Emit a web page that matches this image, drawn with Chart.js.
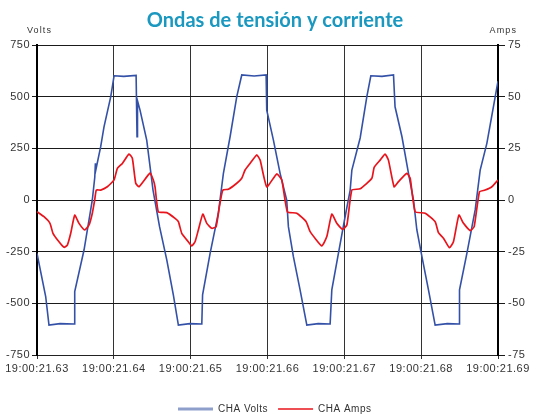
<!DOCTYPE html>
<html><head><meta charset="utf-8">
<script src="https://cdn.jsdelivr.net/npm/chart.js@4"></script>
<style>html,body{margin:0;padding:0;background:#fff;overflow:hidden;}</style>
</head><body>
<canvas id="c" width="541" height="414"></canvas>
<script>
// ---- data (time in ms after 19:00:21.63) ----
const titleText = 'Ondas de tensión y corriente';
const timeLabels = ['19:00:21.63','19:00:21.64','19:00:21.65','19:00:21.66','19:00:21.67','19:00:21.68','19:00:21.69'];
const seriesNames = ['CHA Volts', 'CHA Amps'];

const voltTime = [0,1.13,1.56,3.0,4.82,4.91,6.12,7.2,7.52,7.6,7.68,8.29,8.72,9.6,10.03,11.3,12.9,13.02,13.08,13.41,
  14.28,15.1,15.95,16.89,17.75,18.4,19.9,21.45,21.55,22.53,23.6,24.26,25.13,26.0,26.65,28.26,29.82,29.9,30.77,31.64,
  32.5,32.72,33.37,34.24,35.12,36.6,38.15,38.37,39.23,40.1,40.76,40.98,42.06,42.93,43.45,44.9,46.4,46.6,47.5,48.35,
  49.0,49.44,50.1,50.95,51.82,53.4,54.95,54.99,55.95,57.03,57.68,58.55,60];
const voltValues = [-258,-467,-605,-598,-600,-443,-242,0,110,178,150,258,354,500,601,598,603,306,480,435,
  290,48,-129,-290,-460,-605,-598,-600,-459,-258,-64,129,306,500,605,600,605,435,290,129,
  0,-129,-274,-435,-605,-598,-600,-435,-258,-81,48,145,300,500,601,598,605,451,306,129,
  0,-145,-274,-435,-605,-598,-600,-435,-258,-48,145,274,575];

const ampTime = [0,0.91,1.69,2.08,2.86,3.52,3.95,4.39,4.91,5.47,6.21,6.77,7.2,7.51,7.72,8.29,9.15,10.03,10.46,11.11,
  11.98,12.41,12.85,13.28,14.71,15.14,15.36,15.79,16.89,17.97,18.4,18.84,19.49,20.14,20.57,21.0,21.58,22.1,22.75,23.31,
  23.74,24.18,24.91,26.0,26.65,27.08,27.73,28.6,29.04,29.9,31.21,31.86,32.59,33.81,35.03,35.55,37.07,37.72,38.37,39.02,
  39.75,40.33,40.98,42.06,43.58,43.88,44.66,45.31,45.74,46.48,47.05,48.14,48.57,49.22,50.52,51.82,52.25,52.9,53.68,54.2,
  54.91,55.51,56.38,56.9,57.59,58.33,59.2,60];
const ampValues = [-5.7,-8.1,-11.3,-16.1,-20.2,-22.9,-21.8,-16.1,-7.3,-11.3,-14.5,-12.1,-6.4,0,4.8,4.8,6.4,9.7,15.3,17.7,
  22.2,20.2,8.1,6.4,13.0,9.7,6.4,-5.7,-6.1,-8.9,-10.5,-16.1,-19.3,-22.2,-20.2,-14.5,-6.8,-11.3,-13.7,-12.9,
  -3.2,4.8,5.2,8.1,10.5,14.5,17.7,21.8,19.3,6.4,12.6,9.7,-5.7,-6.4,-10.5,-15.3,-22.2,-17.7,-6.8,-11.3,
  -14.2,-12.1,4.8,5.4,10.5,15.8,19.3,22.2,19.3,6.4,8.9,12.9,10.5,-5.7,-6.4,-10.5,-15.8,-18.5,-23.1,-20.2,
  -7.3,-11.3,-14.8,-12.9,4.0,4.8,6.4,9.7];

const voltData = voltTime.map((t, i) => ({x: t, y: voltValues[i]}));
const ampData = ampTime.map((t, i) => ({x: t, y: ampValues[i]}));

const tickFont = {family: '"Liberation Sans", Arial, sans-serif', size: 11};
const blue = '#3451a8', red = '#e8141c';

const spacingPlugin = {
  id: 'spacing',
  beforeDraw(chart) {
    if ('letterSpacing' in chart.ctx) chart.ctx.letterSpacing = '0.5px';
  }
};

const textPlugin = {
  id: 'texts',
  afterDraw(chart) {
    const ctx = chart.ctx;
    ctx.save();
    if ('letterSpacing' in ctx) ctx.letterSpacing = '0px';
    ctx.fillStyle = '#1a98c0';
    ctx.font = '700 20px Lato, "Open Sans", sans-serif';
    ctx.textAlign = 'center';
    ctx.textBaseline = 'alphabetic';
    ctx.fillText(titleText, 275, 27);
    ctx.fillStyle = '#333';
    ctx.font = '9px "Liberation Sans", Arial, sans-serif';
    if ('letterSpacing' in ctx) ctx.letterSpacing = '1.1px';
    ctx.textAlign = 'left';
    ctx.fillText('Volts', 27, 33);
    ctx.textAlign = 'right';
    ctx.fillText('Amps', 517, 33);
    ctx.restore();
  }
};

new Chart(document.getElementById('c'), {
  type: 'line',
  data: {
    datasets: [
      {label: seriesNames[0], data: voltData, yAxisID: 'y', borderColor: blue, borderWidth: 1.6,
       pointRadius: 0, tension: 0, order: 1},
      {label: seriesNames[1], data: ampData, yAxisID: 'y2', borderColor: red, borderWidth: 1.7,
       pointRadius: 0, tension: 0.15, order: 0}
    ]
  },
  options: {
    responsive: false,
    animation: false,
    devicePixelRatio: 1,
    layout: {padding: {top: 45, bottom: -10, left: 0, right: 0}},
    plugins: {
      title: {display: false},
      tooltip: {enabled: false},
      legend: {
        position: 'bottom',
        labels: {
          usePointStyle: true,
          pointStyleWidth: 35,
          padding: 10,
          color: '#333',
          font: {family: '"Liberation Sans", Arial, sans-serif', size: 10},
          generateLabels: () => [
            {text: seriesNames[0], strokeStyle: '#8e9fcc', fillStyle: '#8e9fcc', lineWidth: 3, pointStyle: 'line', datasetIndex: 0, fontColor: '#333'},
            {text: seriesNames[1], strokeStyle: red, fillStyle: red, lineWidth: 1.5, pointStyle: 'line', datasetIndex: 1, fontColor: '#333'}
          ]
        }
      }
    },
    scales: {
      x: {
        type: 'linear', min: 0, max: 60,
        afterFit: s => { s.height = 39; },
        ticks: {stepSize: 10, autoSkip: false, maxRotation: 0, padding: 3, color: '#333', font: tickFont,
          callback: (v, i) => timeLabels[i]},
        grid: {color: '#333', lineWidth: 1, tickLength: 4},
        border: {color: '#222', width: 1}
      },
      y: {
        position: 'left', min: -750, max: 750,
        afterFit: s => { s.width = 37; },
        ticks: {stepSize: 250, padding: 2, color: '#333', font: tickFont},
        grid: {color: '#1a1a1a', lineWidth: 1, tickLength: 5},
        border: {color: '#000', width: 2}
      },
      y2: {
        position: 'right', min: -75, max: 75,
        afterFit: s => { s.width = 43; },
        ticks: {stepSize: 25, padding: 3, color: '#333', font: tickFont},
        grid: {drawOnChartArea: false, color: '#1a1a1a', tickLength: 7},
        border: {color: '#000', width: 2}
      }
    }
  },
  plugins: [spacingPlugin, textPlugin]
});
</script>
</body></html>
